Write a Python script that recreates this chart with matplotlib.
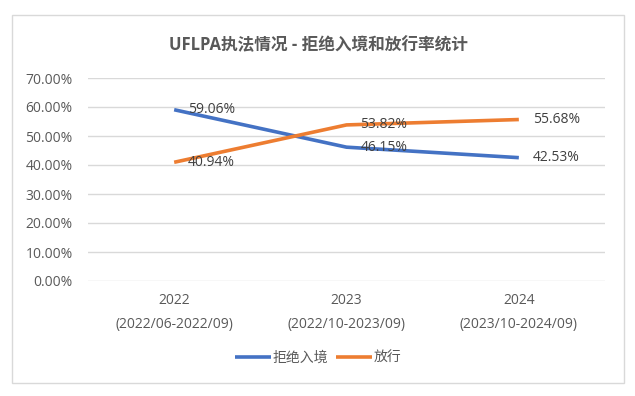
import matplotlib.pyplot as plt
from matplotlib.patches import Rectangle
from matplotlib.ticker import FuncFormatter

plt.rcParams['font.family'] = ['Open Sans', 'Noto Sans CJK SC', 'DejaVu Sans']

categories = ['2022\n(2022/06-2022/09)', '2023\n(2022/10-2023/09)', '2024\n(2023/10-2024/09)']
refused = [59.06, 46.15, 42.53]
released = [40.94, 53.82, 55.68]
yticks = [0, 10, 20, 30, 40, 50, 60, 70]

fig = plt.figure(figsize=(6.35, 3.96), dpi=100)
fig.patches.append(Rectangle((12 / 635, 1 - 383 / 396), 612 / 635, 368 / 396,
                             transform=fig.transFigure, fill=False,
                             edgecolor='#D9D9D9', linewidth=1))
ax = fig.add_axes([88 / 635, 1 - 281 / 396, 517 / 635, 203 / 396])

x = range(len(categories))
ax.plot(x, refused, color='#4472C4', linewidth=2.6, label='拒绝入境', solid_capstyle='butt')
ax.plot(x, released, color='#ED7D31', linewidth=2.6, label='放行', solid_capstyle='butt')

for xs, ys in [(x, refused), (x, released)]:
    for xi, yi in zip(xs, ys):
        ax.annotate(f'{yi:.2f}%', (xi, yi), xytext=(10, 0), textcoords='offset points',
                    ha='left', va='center', fontsize=10, color='#404040')

ax.set_xlim(-0.5, 2.5)
ax.set_ylim(0, 70)
ax.set_yticks(yticks)
ax.yaxis.set_major_formatter(FuncFormatter(lambda v, p: f'{v:.2f}%'))
ax.set_xticks(list(x))
ax.set_xticklabels(categories, linespacing=1.75)
ax.tick_params(axis='both', length=0, labelsize=10, labelcolor='#595959')
ax.tick_params(axis='y', pad=11)
ax.tick_params(axis='x', pad=9)
ax.grid(axis='y', color='#D9D9D9', linewidth=1)
ax.set_axisbelow(True)
for s in ax.spines.values():
    s.set_visible(False)

fig.text(318 / 635, 1 - 45 / 396, 'UFLPA执法情况 - 拒绝入境和放行率统计', ha='center', va='center',
         fontsize=12, fontweight='bold', color='#595959')

fig.legend(loc='center', bbox_to_anchor=(318 / 635, 1 - 358 / 396), ncol=2, frameon=False,
           fontsize=10, labelcolor='#595959', handlelength=2.6, handletextpad=0.1, columnspacing=0.6)

fig.savefig('out.png', dpi=100)
